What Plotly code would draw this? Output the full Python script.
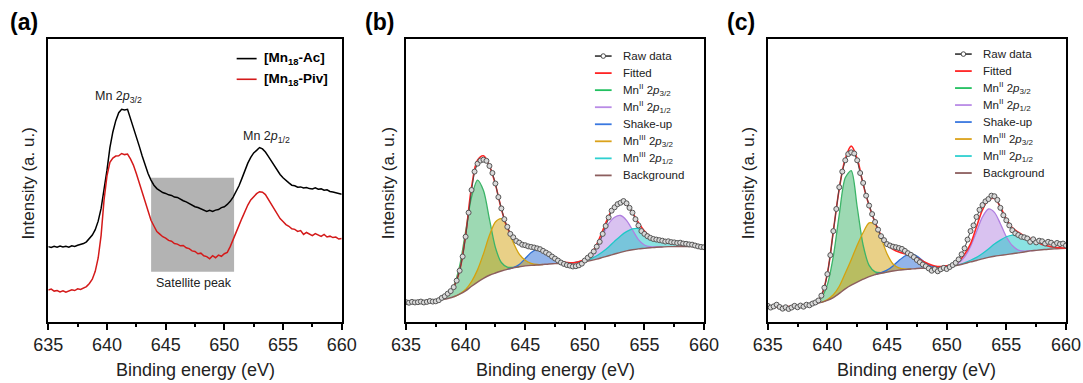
import plotly.graph_objects as go

FONT = "Arial, Liberation Sans, sans-serif"
W, H = 1083, 383

# ---------------- data ----------------
E_RAW = [635 + 0.25 * i for i in range(101)]   # binding energy grid, raw spectra (eV)
E_FIT = [635 + 0.5 * i for i in range(51)]     # binding energy grid, fit curves (eV)

# panel (a) spectra (a.u.)
mn18_ac = [26.5, 26.2, 26.6, 26.3, 26.7, 26.4, 26.6, 26.3, 26.8, 26.6,
           27.0, 27.3, 27.6, 28.2, 29.3, 30.6, 32.5, 35.5, 40.0, 46.5,
           53.5, 61.5, 67.0, 71.0, 73.8, 75.0, 74.8, 75.0, 71.8, 69.0,
           65.8, 62.0, 58.5, 55.2, 52.3, 50.0, 48.2, 47.0, 46.3, 45.6,
           45.3, 44.8, 44.6, 44.0, 43.9, 43.2, 42.7, 42.3, 41.7, 41.3,
           40.6, 40.3, 39.8, 39.2, 38.9, 39.3, 38.9, 39.4, 39.6, 40.3,
           40.6, 41.4, 42.5, 44.0, 46.0, 48.0, 50.6, 53.5, 56.0, 58.0,
           59.6, 60.5, 61.5, 61.0, 59.9, 58.4, 56.8, 55.2, 53.5, 52.0,
           50.8, 49.8, 49.0, 48.2, 48.0, 47.5, 47.6, 47.2, 47.4, 47.0,
           46.9, 47.3, 46.8, 46.9, 46.4, 46.6, 46.0, 45.8, 45.5, 45.3,
           45.0]
mn18_piv = [11.2, 11.5, 10.8, 11.0, 10.5, 10.9, 10.4, 10.8, 11.3, 11.0,
            11.6, 11.4, 12.0, 12.4, 13.5, 15.0, 17.8, 22.5, 30.5, 43.0,
            51.5, 56.3, 57.8, 58.5, 58.6, 59.4, 59.0, 59.2, 57.5, 55.3,
            52.3, 49.0, 46.0, 42.9, 39.2, 35.8, 33.8, 31.8, 30.9, 30.0,
            29.5, 28.7, 28.4, 27.6, 27.4, 26.8, 26.9, 26.1, 25.8, 25.0,
            24.8, 24.0, 24.2, 23.3, 23.0, 22.2, 23.3, 22.6, 23.5, 23.1,
            24.0, 24.5, 26.5, 28.8, 31.5, 34.0, 36.5, 39.0, 41.2, 43.0,
            44.3, 45.2, 45.9, 45.7, 44.9, 43.2, 41.3, 39.4, 37.6, 36.4,
            35.4, 34.3, 33.7, 32.8, 32.6, 31.9, 32.2, 30.8, 31.5, 31.0,
            30.4, 31.1, 30.6, 30.1, 30.8, 29.9, 30.2, 29.7, 29.9, 29.2,
            29.4]
SAT_BOX = [643.76, 650.83, 17.6, 50.8]   # satellite region x0, x1, y0, y1

# panel (b)
raw_b = [6.9, 6.7, 7.0, 6.8, 6.9, 7.1, 6.8, 7.0, 7.3, 7.1,
         7.2, 7.6, 8.4, 9.0, 9.9, 10.8, 12.2, 14.5, 18.0, 23.0,
         30.0, 38.5, 46.5, 53.0, 55.8, 56.9, 57.2, 56.8, 55.0, 52.5,
         48.8, 44.0, 40.0, 36.2, 33.5, 31.0, 29.8, 28.5, 27.9, 27.2,
         27.0, 26.6, 26.4, 26.2, 25.9, 25.6, 25.0, 24.4, 23.8, 23.0,
         22.3, 21.6, 20.9, 20.4, 20.0, 19.8, 19.5, 19.6, 19.9, 20.5,
         21.6, 22.6, 23.5, 24.8, 26.5, 28.2, 31.0, 33.8, 36.8, 39.2,
         40.4, 41.5, 42.0, 42.6, 41.8, 40.2, 38.5, 36.2, 34.0, 32.0,
         31.0, 30.2, 29.6, 29.2, 29.0, 28.8, 28.6, 28.3, 28.4, 28.1,
         28.0, 27.8, 27.9, 27.6, 27.5, 27.3, 27.2, 26.9, 26.6, 26.4,
         26.3]
fit_b = [6.9, 6.9, 6.9, 7.0, 7.0, 7.3, 8.2, 9.8, 12.3, 18.0,
         30.5, 47.5, 57.0, 58.6, 55.0, 48.5, 39.8, 33.2, 29.5, 27.6,
         26.7, 26.3, 25.9, 25.0, 23.8, 22.3, 21.2, 20.9, 20.8, 21.2,
         22.0, 23.8, 27.3, 32.2, 37.2, 40.9, 42.2, 41.3, 38.5, 35.0,
         32.0, 30.0, 28.9, 28.2, 27.8, 27.5, 27.2, 27.0, 26.8, 26.7,
         26.6]
bg_b = [6.9, 6.9, 6.9, 6.9, 7.0, 7.2, 7.7, 8.2, 8.8, 9.7,
        10.9, 12.5, 14.0, 15.3, 16.4, 17.2, 17.9, 18.5, 19.0, 19.4,
        19.7, 19.9, 20.0, 20.2, 20.4, 20.5, 20.6, 20.7, 20.8, 21.0,
        21.2, 21.6, 22.1, 22.7, 23.3, 23.9, 24.5, 25.0, 25.4, 25.7,
        25.9, 26.1, 26.3, 26.4, 26.5, 26.5, 26.5, 26.5, 26.5, 26.5,
        26.5]
mn2_32_b = [0, 0, 0, 0, 0, 0, 0.3, 1.2, 3.8, 10.0,
            21.0, 31.5, 36.0, 31.0, 19.8, 9.0, 3.0, 0.8, 0.2, 0,
            0, 0, 0, 0, 0, 0, 0, 0, 0, 0,
            0, 0, 0, 0, 0, 0, 0, 0, 0, 0,
            0, 0, 0, 0, 0, 0, 0, 0, 0, 0, 0]
mn2_12_b = [0, 0, 0, 0, 0, 0, 0, 0, 0, 0,
            0, 0, 0, 0, 0, 0, 0, 0, 0, 0,
            0, 0, 0, 0, 0, 0, 0, 0, 0, 0.1,
            0.4, 1.8, 4.2, 7.8, 11.3, 13.0, 13.0, 10.8, 7.0, 3.3,
            1.2, 0.4, 0.1, 0, 0, 0, 0, 0, 0, 0, 0]
shake_b = [0, 0, 0, 0, 0, 0, 0, 0, 0, 0,
           0, 0, 0, 0, 0, 0, 0, 0, 0.1, 0.8,
           2.6, 4.5, 5.5, 5.1, 3.6, 1.8, 0.6, 0.1, 0, 0,
           0, 0, 0, 0, 0, 0, 0, 0, 0, 0,
           0, 0, 0, 0, 0, 0, 0, 0, 0, 0, 0]
mn3_32_b = [0, 0, 0, 0, 0, 0, 0, 0, 0, 0.1,
            0.5, 1.7, 4.3, 8.7, 14.1, 18.0, 18.5, 15.0, 9.0, 4.5,
            2.0, 0.7, 0.2, 0, 0, 0, 0, 0, 0, 0,
            0, 0, 0, 0, 0, 0, 0, 0, 0, 0,
            0, 0, 0, 0, 0, 0, 0, 0, 0, 0, 0]
mn3_12_b = [0, 0, 0, 0, 0, 0, 0, 0, 0, 0,
            0, 0, 0, 0, 0, 0, 0, 0, 0, 0,
            0, 0, 0, 0, 0, 0, 0, 0, 0, 0.1,
            0.3, 0.6, 1.2, 2.0, 3.1, 4.5, 5.8, 6.8, 7.4, 7.2,
            5.8, 3.8, 2.3, 1.6, 1.2, 0.9, 0.6, 0.4, 0.3, 0.2, 0.1]

# panel (c)
raw_c = [5.6, 5.0, 5.4, 6.0, 5.2, 4.6, 5.1, 4.5, 5.0, 5.6,
         5.1, 5.7, 5.3, 6.0, 5.8, 6.4, 6.8, 7.5, 9.2, 12.0,
         16.8, 23.5, 32.0, 39.8, 47.5, 53.0, 57.0, 59.2, 59.8, 59.4,
         57.0, 52.5, 49.0, 44.5, 41.0, 38.0, 35.2, 32.5, 30.2, 28.8,
         27.4, 26.9, 26.5, 26.3, 26.0, 25.7, 25.0, 24.2, 23.6, 22.8,
         21.8, 21.0, 20.2, 19.6, 18.8, 18.0, 18.6, 17.8, 18.5, 19.0,
         18.6, 19.3, 20.0, 20.8, 22.0, 23.8, 25.9, 29.0, 32.0, 34.0,
         37.0, 39.5, 41.2, 42.5, 43.3, 44.5, 44.3, 43.0, 40.2, 37.6,
         35.8, 34.0, 32.3, 31.2, 30.6, 30.0, 29.8, 29.4, 28.2, 29.1,
         28.0, 28.6, 28.4, 27.6, 28.2, 27.9, 27.2, 27.8, 27.4, 27.6,
         26.9]
fit_c = [5.3, 5.3, 5.3, 5.3, 5.4, 5.5, 5.7, 6.1, 6.8, 9.2,
         17.0, 32.0, 47.0, 57.5, 62.0, 57.5, 48.5, 41.0, 35.0, 30.5,
         27.3, 25.6, 24.6, 24.0, 23.5, 22.6, 21.4, 20.4, 19.7, 19.5,
         19.7, 20.2, 21.3, 23.8, 27.5, 33.5, 39.5, 43.0, 43.5, 40.5,
         36.3, 33.2, 31.6, 30.3, 29.4, 28.3, 27.3, 26.7, 26.3, 26.1,
         26.0]
bg_c = [5.3, 5.3, 5.3, 5.3, 5.4, 5.5, 5.7, 6.0, 6.3, 6.8,
        7.5, 8.5, 10.0, 11.6, 12.9, 14.0, 15.0, 15.9, 16.6, 17.1,
        17.5, 17.9, 18.2, 18.4, 18.6, 18.8, 18.9, 19.0, 19.1, 19.3,
        19.5, 19.7, 20.0, 20.5, 21.1, 21.6, 22.2, 22.7, 23.1, 23.4,
        23.7, 24.0, 24.3, 24.6, 25.0, 25.2, 25.4, 25.6, 25.7, 25.8,
        25.9]
mn2_32_c = [0, 0, 0, 0, 0, 0, 0, 0.1, 0.3, 1.6,
            5.6, 14.6, 27.9, 39.2, 40.4, 26.5, 12.0, 4.0, 1.0, 0.2,
            0, 0, 0, 0, 0, 0, 0, 0, 0, 0,
            0, 0, 0, 0, 0, 0, 0, 0, 0, 0,
            0, 0, 0, 0, 0, 0, 0, 0, 0, 0, 0]
mn2_12_c = [0, 0, 0, 0, 0, 0, 0, 0, 0, 0,
            0, 0, 0, 0, 0, 0, 0, 0, 0, 0,
            0, 0, 0, 0, 0, 0, 0, 0, 0, 0,
            0.1, 0.2, 0.8, 2.4, 5.5, 10.2, 14.8, 17.1, 15.5, 11.2,
            6.3, 2.9, 1.0, 0.3, 0.1, 0, 0, 0, 0, 0, 0]
shake_c = [0, 0, 0, 0, 0, 0, 0, 0, 0, 0,
           0, 0, 0, 0, 0, 0, 0, 0, 0, 0.2,
           0.7, 1.8, 3.4, 4.8, 5.3, 4.4, 2.6, 1.0, 0.3, 0.1,
           0, 0, 0, 0, 0, 0, 0, 0, 0, 0,
           0, 0, 0, 0, 0, 0, 0, 0, 0, 0, 0]
mn3_32_c = [0, 0, 0, 0, 0, 0, 0, 0, 0, 0,
            0.3, 1.0, 2.5, 5.5, 9.0, 13.0, 16.5, 19.0, 17.9, 12.5,
            6.5, 2.5, 0.8, 0.2, 0, 0, 0, 0, 0, 0,
            0, 0, 0, 0, 0, 0, 0, 0, 0, 0,
            0, 0, 0, 0, 0, 0, 0, 0, 0, 0, 0]
mn3_12_c = [0, 0, 0, 0, 0, 0, 0, 0, 0, 0,
            0, 0, 0, 0, 0, 0, 0, 0, 0, 0,
            0, 0, 0, 0, 0, 0, 0, 0, 0, 0,
            0, 0, 0.1, 0.3, 0.6, 1.1, 1.9, 3.0, 4.3, 5.4,
            6.3, 6.6, 6.3, 5.4, 4.3, 3.0, 1.9, 1.1, 0.6, 0.3, 0.1]

X_TICKS = [635, 640, 645, 650, 655, 660]
LEGEND_LABELS = ["Raw data", "Fitted",
                 "Mn<sup>II</sup> 2<i>p</i><sub>3/2</sub>",
                 "Mn<sup>II</sup> 2<i>p</i><sub>1/2</sub>",
                 "Shake-up",
                 "Mn<sup>III</sup> 2<i>p</i><sub>3/2</sub>",
                 "Mn<sup>III</sup> 2<i>p</i><sub>1/2</sub>",
                 "Background"]

# ---------------- styles ----------------
C_RAW = "#4a4a4a"
C_FIT = "#ff2424"
C_BG = "#8c5e5e"
COMP_STYLE = {
    "g": ("#3cb468", "rgba(60,180,104,0.50)"),
    "p": ("#b07fe0", "rgba(176,127,224,0.48)"),
    "b": ("#2e6fd6", "rgba(46,111,214,0.52)"),
    "o": ("#d4a20f", "rgba(212,162,15,0.50)"),
    "c": ("#1fc8c8", "rgba(31,200,200,0.52)"),
}

def px_x(p):
    return p / W

def px_y(p):
    return 1 - p / H

Y_DOM = [px_y(321.7), px_y(38.5)]
X_DOMS = [[px_x(48.3), px_x(341.7)], [px_x(406.0), px_x(704.0)], [px_x(767.7), px_x(1066.0)]]

fig = go.Figure()

# ---------- panel (a) ----------
fig.add_trace(go.Scatter(x=E_RAW, y=mn18_ac, mode="lines", line=dict(color="black", width=1.5),
                         xaxis="x", yaxis="y", hoverinfo="skip", showlegend=False))
fig.add_trace(go.Scatter(x=E_RAW, y=mn18_piv, mode="lines", line=dict(color="#d41a1a", width=1.5),
                         xaxis="x", yaxis="y", hoverinfo="skip", showlegend=False))
fig.add_shape(type="rect", xref="x", yref="y", x0=SAT_BOX[0], x1=SAT_BOX[1], y0=SAT_BOX[2], y1=SAT_BOX[3],
              fillcolor="#b3b3b3", line=dict(width=0), layer="below")

# ---------- fit panels ----------
def add_fit_panel(xa, ya, raw, fit, bg, comps):
    for h, key in comps:
        lc, fc = COMP_STYLE[key]
        top = [b + v for b, v in zip(bg, h)]
        fig.add_trace(go.Scatter(x=E_FIT + E_FIT[::-1], y=top + bg[::-1], mode="lines", fill="toself",
                                 fillcolor=fc, line=dict(width=0, shape="spline", smoothing=0.8),
                                 xaxis=xa, yaxis=ya, hoverinfo="skip", showlegend=False))
    for h, key in comps:
        lc, fc = COMP_STYLE[key]
        n = len(h)
        yline = []
        for i in range(n):
            on = h[i] > 0 or (i > 0 and h[i - 1] > 0) or (i < n - 1 and h[i + 1] > 0)
            yline.append(bg[i] + h[i] if on else None)
        fig.add_trace(go.Scatter(x=E_FIT, y=yline, mode="lines", connectgaps=False,
                                 line=dict(color=lc, width=1.3, shape="spline", smoothing=0.8),
                                 xaxis=xa, yaxis=ya, hoverinfo="skip", showlegend=False))
    fig.add_trace(go.Scatter(x=E_FIT, y=bg, mode="lines", line=dict(color=C_BG, width=1.4, shape="spline"),
                             xaxis=xa, yaxis=ya, hoverinfo="skip", showlegend=False))
    fig.add_trace(go.Scatter(x=E_FIT, y=fit, mode="lines", line=dict(color=C_FIT, width=1.6, shape="spline"),
                             xaxis=xa, yaxis=ya, hoverinfo="skip", showlegend=False))
    fig.add_trace(go.Scatter(x=E_RAW, y=raw, mode="lines+markers",
                             line=dict(color=C_RAW, width=1),
                             marker=dict(symbol="circle", size=5, color="#d9d9d9",
                                         line=dict(color="#555555", width=1)),
                             xaxis=xa, yaxis=ya, hoverinfo="skip", showlegend=False))

add_fit_panel("x2", "y2", raw_b, fit_b, bg_b,
              [(mn2_32_b, "g"), (mn2_12_b, "p"), (shake_b, "b"), (mn3_32_b, "o"), (mn3_12_b, "c")])
add_fit_panel("x3", "y3", raw_c, fit_c, bg_c,
              [(mn2_32_c, "g"), (mn2_12_c, "p"), (shake_c, "b"), (mn3_32_c, "o"), (mn3_12_c, "c")])

# ---------- axes ----------
def xaxis_cfg(dom, anchor):
    return dict(domain=dom, anchor=anchor, range=[635, 660], tickmode="array", tickvals=X_TICKS,
                ticks="outside", ticklen=6, tickwidth=1.5, tickcolor="black",
                showline=True, linecolor="black", linewidth=1.8, mirror=True,
                showgrid=False, zeroline=False, automargin=False,
                tickfont=dict(family=FONT, size=18, color="#222222"),
                minor=dict(tickmode="linear", tick0=635, dtick=2.5, ticks="outside", ticklen=3.5,
                           tickwidth=1.5, tickcolor="black", showgrid=False))

def yaxis_cfg(anchor):
    return dict(domain=Y_DOM, anchor=anchor, range=[0, 100], showticklabels=False, ticks="",
                showline=True, linecolor="black", linewidth=1.8, mirror=True,
                showgrid=False, zeroline=False, automargin=False)

fig.update_layout(
    xaxis=xaxis_cfg(X_DOMS[0], "y"), yaxis=yaxis_cfg("x"),
    xaxis2=xaxis_cfg(X_DOMS[1], "y2"), yaxis2=yaxis_cfg("x2"),
    xaxis3=xaxis_cfg(X_DOMS[2], "y3"), yaxis3=yaxis_cfg("x3"),
)

# ---------- text ----------
for i, lab in enumerate(["(a)", "(b)", "(c)"]):
    xs = [8, 363, 725][i]
    fig.add_annotation(xref="paper", yref="paper", x=px_x(xs), y=px_y(22), text="<b>%s</b>" % lab,
                       showarrow=False, xanchor="left", yanchor="middle",
                       font=dict(family=FONT, size=23, color="black"))
    xc = [28.3, 388.0, 748.0][i]
    fig.add_annotation(xref="paper", yref="paper", x=px_x(xc), y=px_y(183.3), text="Intensity (a. u.)",
                       textangle=-90, showarrow=False, xanchor="center", yanchor="middle",
                       font=dict(family=FONT, size=17, color="#222222"))
    dom = X_DOMS[i]
    fig.add_annotation(xref="paper", yref="paper", x=(dom[0] + dom[1]) / 2, y=px_y(370),
                       text="Binding energy (eV)", showarrow=False, xanchor="center", yanchor="middle",
                       font=dict(family=FONT, size=18, color="#222222"))

# panel (a) annotations
fig.add_annotation(xref="x", yref="y", x=640.95, y=79.3, text="Mn 2<i>p</i><sub>3/2</sub>", showarrow=False,
                   xanchor="center", yanchor="middle", font=dict(family=FONT, size=12.5, color="#222222"))
fig.add_annotation(xref="x", yref="y", x=653.6, y=65.3, text="Mn 2<i>p</i><sub>1/2</sub>", showarrow=False,
                   xanchor="center", yanchor="middle", font=dict(family=FONT, size=12.5, color="#222222"))
fig.add_annotation(xref="x", yref="y", x=647.44, y=13.8, text="Satellite peak", showarrow=False,
                   xanchor="center", yanchor="middle", font=dict(family=FONT, size=12.5, color="#222222"))

# panel (a) legend
for k, (lab, col) in enumerate([("[Mn<sub>18</sub>-Ac]", "black"), ("[Mn<sub>18</sub>-Piv]", "#d41a1a")]):
    yy = 0.929 - k * 0.073
    fig.add_shape(type="line", xref="x domain", yref="y domain", x0=0.642, x1=0.710, y0=yy, y1=yy,
                  line=dict(color=col, width=1.6))
    fig.add_annotation(xref="x domain", yref="y domain", x=0.728, y=yy, text="<b>%s</b>" % lab,
                       showarrow=False, xanchor="left", yanchor="middle",
                       font=dict(family=FONT, size=13.5, color="black"))

# fit-panel legends
LEG_COLORS = [C_RAW, C_FIT, "#22c060", "#b98be6", "#3a78e0", "#dba21a", "#2fd0d0", C_BG]

def add_fit_legend(xa, ya, x0, x1, xt, ytop, dy):
    xr, yr = xa + " domain", ya + " domain"
    for k, (lab, col) in enumerate(zip(LEGEND_LABELS, LEG_COLORS)):
        yy = ytop - k * dy
        fig.add_shape(type="line", xref=xr, yref=yr, x0=x0, x1=x1, y0=yy, y1=yy,
                      line=dict(color=col, width=1.8))
        if k == 0:
            fig.add_shape(type="circle", xref=xr, yref=yr, xsizemode="pixel", ysizemode="pixel",
                          xanchor=(x0 + x1) / 2, yanchor=yy, x0=-2.3, x1=2.3, y0=-2.3, y1=2.3,
                          fillcolor="white", line=dict(color=C_RAW, width=1))
        fig.add_annotation(xref=xr, yref=yr, x=xt, y=yy, text=lab, showarrow=False,
                           xanchor="left", yanchor="middle",
                           font=dict(family=FONT, size=11.5, color="#222222"))

add_fit_legend("x2", "y2", 0.634, 0.690, 0.722, 0.938, 0.0602)
add_fit_legend("x3", "y3", 0.628, 0.684, 0.716, 0.945, 0.0600)

fig.update_layout(width=W, height=H, autosize=False, margin=dict(l=0, r=0, t=0, b=0, pad=0, autoexpand=False),
                  paper_bgcolor="white", plot_bgcolor="white", showlegend=False,
                  font=dict(family=FONT))

fig.write_html("out.html", config={"responsive": False, "displayModeBar": False},
               post_script="document.body.style.margin='0';document.body.style.padding='0';"
                           "document.body.style.overflow='hidden';"
                           "document.documentElement.style.overflow='hidden';")
